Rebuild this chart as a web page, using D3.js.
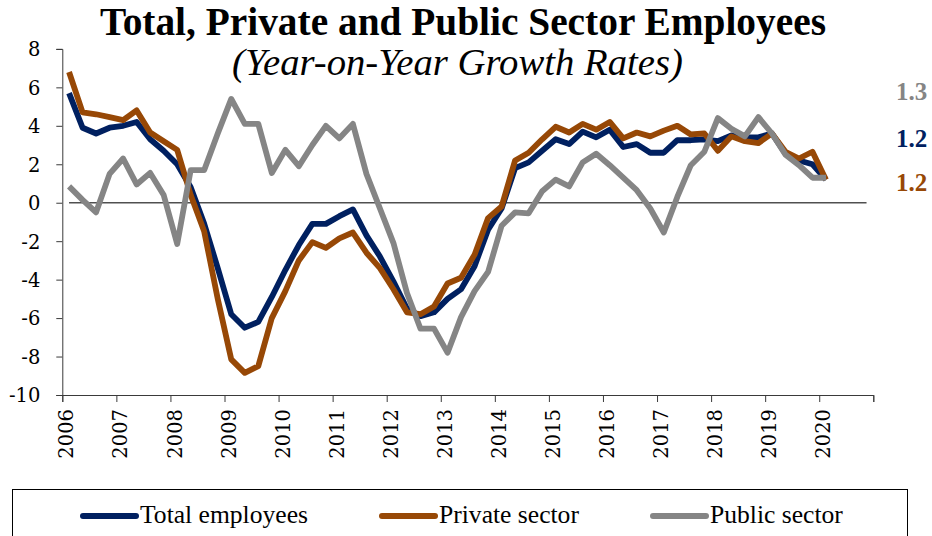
<!DOCTYPE html>
<html>
<head>
<meta charset="utf-8">
<script src="https://cdn.jsdelivr.net/npm/d3@7"></script>
<style>
  html, body { margin: 0; padding: 0; background: #fff; }
  svg { display: block; }
</style>
</head>
<body>
<svg id="chart" width="932" height="536"></svg>
<script>
// Quarterly year-on-year growth rates, 2006 Q1 – 2020 Q1
const years = [2006, 2007, 2008, 2009, 2010, 2011, 2012, 2013, 2014, 2015, 2016, 2017, 2018, 2019, 2020];
const yTicks = [-10, -8, -6, -4, -2, 0, 2, 4, 6, 8];

const totalEmployees = [
  5.7, 3.9, 3.6, 3.9, 4.0, 4.2, 3.3, 2.7,
  2.0, 0.8, -1.1, -3.4, -5.8, -6.5, -6.2, -4.9,
  -3.5, -2.2, -1.1, -1.1, -0.7, -0.35, -1.7, -2.8,
  -4.1, -5.5, -5.9, -5.7, -5.0, -4.5, -3.3, -1.4,
  -0.3, 1.8, 2.1, 2.7, 3.3, 3.05, 3.7, 3.4,
  3.8, 2.9, 3.05, 2.6, 2.6, 3.25, 3.25, 3.3,
  3.2, 3.5, 3.4, 3.4, 3.6, 2.55, 2.2, 2.0,
  1.2
];
const privateSector = [
  6.8, 4.7, 4.6, 4.45, 4.3, 4.8, 3.65, 3.2,
  2.75, 0.4, -1.5, -5.0, -8.15, -8.85, -8.5, -6.0,
  -4.6, -3.0, -2.05, -2.35, -1.85, -1.55, -2.6, -3.4,
  -4.5, -5.7, -5.8, -5.4, -4.2, -3.9, -2.7, -0.8,
  -0.2, 2.2, 2.6, 3.3, 3.95, 3.65, 4.1, 3.8,
  4.2, 3.35, 3.65, 3.45, 3.75, 4.0, 3.55, 3.6,
  2.7, 3.45, 3.2, 3.1, 3.6, 2.65, 2.3, 2.65,
  1.2
];
const publicSector = [
  0.85, 0.15, -0.5, 1.5, 2.3, 0.95, 1.55, 0.4,
  -2.15, 1.7, 1.7, 3.6, 5.4, 4.1, 4.1, 1.55,
  2.75, 1.9, 3.0, 4.0, 3.35, 4.1, 1.5, -0.3,
  -2.1, -4.7, -6.55, -6.55, -7.8, -5.95, -4.6, -3.6,
  -1.2, -0.5, -0.55, 0.6, 1.2, 0.85, 2.1, 2.55,
  1.95, 1.3, 0.65, -0.3, -1.55, 0.3, 1.95, 2.65,
  4.4, 3.85, 3.45, 4.45, 3.6, 2.5, 1.95, 1.3,
  1.3
];
const seriesNames = ["Total employees", "Private sector", "Public sector"];
const lastLabels = ["1.2", "1.2", "1.3"];
const colors = ["#002060", "#974806", "#858585"];

const svg = d3.select("#chart");
const serif = "'DejaVu Serif', serif";
const titleSerif = "'Liberation Serif', serif";

// Plot frame
const plotLeft = 62.3, plotRight = 873.3, plotTop = 48.9, plotBottom = 395;
const slots = years.length * 4;               // one slot per quarter
const x = d3.scaleLinear().domain([0, slots]).range([plotLeft, plotRight]);
const y = d3.scaleLinear().domain([-10, 8]).range([plotBottom, plotTop]);
const px = i => x(i + 0.5);                  // points sit mid-slot

function fitWidth(sel, w) {
  const len = sel.node().getComputedTextLength();
  const fs = parseFloat(sel.attr("font-size"));
  sel.attr("font-size", fs * w / len);
}

// Title
const t1 = svg.append("text")
  .attr("x", 463).attr("y", 35)
  .attr("text-anchor", "middle")
  .attr("font-family", titleSerif).attr("font-weight", "bold")
  .attr("font-size", 33).attr("fill", "#000")
  .text("Total, Private and Public Sector Employees");
fitWidth(t1, 726);

const t2 = svg.append("text")
  .attr("x", 457.5).attr("y", 75)
  .attr("text-anchor", "middle")
  .attr("font-family", titleSerif).attr("font-style", "italic")
  .attr("font-size", 30).attr("fill", "#000")
  .text("(Year-on-Year Growth Rates)");
fitWidth(t2, 451);

// Y axis (plain hyphen for negative numbers)
const yAxis = d3.axisLeft(y).tickValues(yTicks).tickSize(6).tickPadding(16)
  .tickFormat(d => String(d));
const gy = svg.append("g").attr("transform", `translate(${plotLeft},0)`).call(yAxis);
gy.select(".domain").attr("stroke", "#3a3a3a").attr("stroke-width", 1);
gy.selectAll(".tick line").attr("stroke", "#3a3a3a");
gy.selectAll(".tick text")
  .attr("font-family", serif).attr("font-size", 19.5).attr("fill", "#000")
  .attr("dy", "0.35em");

// X axis: year ticks every four quarters, labels rotated
const xTickSlots = d3.range(0, slots + 1, 4);
const xAxis = d3.axisBottom(x).tickValues(xTickSlots).tickSize(7).tickFormat("");
const gx = svg.append("g").attr("transform", `translate(0,${plotBottom})`).call(xAxis);
gx.select(".domain").attr("stroke", "#3a3a3a").attr("stroke-width", 1);
gx.selectAll(".tick line").attr("stroke", "#3a3a3a");

svg.append("g").selectAll("text").data(years).join("text")
  .attr("transform", (d, i) => `translate(${x(i * 4) + 4.3},${plotBottom + 14}) rotate(-90)`)
  .attr("text-anchor", "end").attr("dy", "0.35em")
  .attr("font-family", serif).attr("font-size", 19.5).attr("fill", "#000")
  .text(d => d);

// Zero reference line
svg.append("line")
  .attr("x1", px(0)).attr("x2", px(slots - 1))
  .attr("y1", y(0)).attr("y2", y(0))
  .attr("stroke", "#505050").attr("stroke-width", 1.4);

// Series lines
const line = d3.line().x((d, i) => px(i)).y(d => y(d));
const allSeries = [totalEmployees, privateSector, publicSector];
svg.append("g").selectAll("path").data(allSeries).join("path")
  .attr("d", line)
  .attr("fill", "none")
  .attr("stroke", (d, i) => colors[i])
  .attr("stroke-width", 5.8)
  .attr("stroke-linejoin", "round")
  .attr("stroke-linecap", "butt");

// Latest-value labels on the right
const labelBaselines = [147, 190.5, 100];
svg.append("g").selectAll("text").data(lastLabels).join("text")
  .attr("x", 896).attr("y", (d, i) => labelBaselines[i])
  .attr("font-family", titleSerif).attr("font-weight", "bold")
  .attr("font-size", 25).attr("fill", (d, i) => colors[i])
  .text(d => d);

// Legend
svg.append("rect")
  .attr("x", 12.5).attr("y", 489.5).attr("width", 895).attr("height", 60)
  .attr("fill", "#fff").attr("stroke", "#000").attr("stroke-width", 1);

const legendX = [81, 380, 651];
const lg = svg.append("g").selectAll("g").data(seriesNames).join("g")
  .attr("transform", (d, i) => `translate(${legendX[i]},516)`);
lg.append("line")
  .attr("x1", 2).attr("x2", 55).attr("y1", 0).attr("y2", 0)
  .attr("stroke", (d, i) => colors[i]).attr("stroke-width", 6)
  .attr("stroke-linecap", "round");
const legendTexts = lg.append("text")
  .attr("x", 59).attr("y", 7)
  .attr("font-family", titleSerif).attr("font-size", 22).attr("fill", "#000")
  .text(d => d);
// size legend type so the first entry spans its slot
const firstLen = legendTexts.nodes()[0].getComputedTextLength();
legendTexts.attr("font-size", 22 * 168 / firstLen);
</script>
</body>
</html>
